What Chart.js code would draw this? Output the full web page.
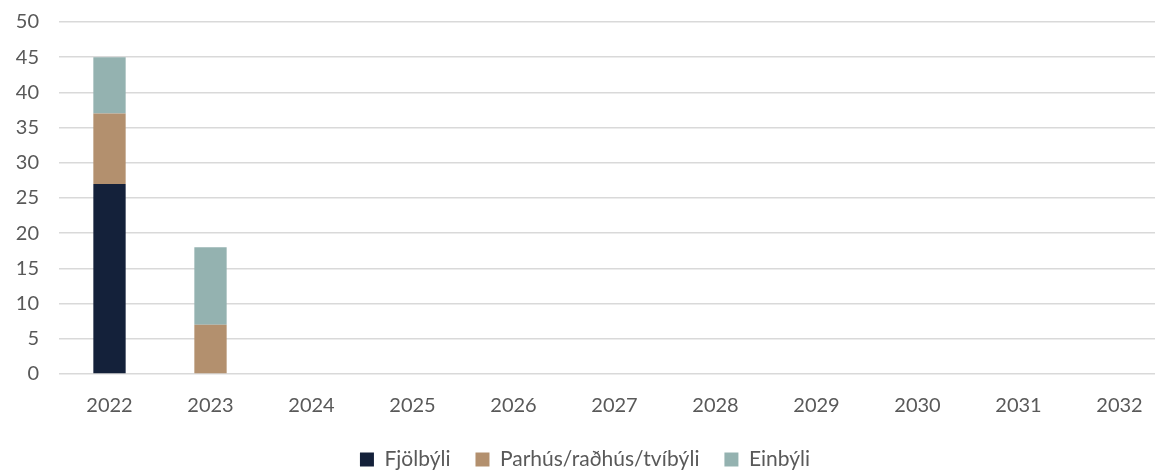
<!DOCTYPE html>
<html>
<head>
<meta charset="utf-8">
<script src="https://cdn.jsdelivr.net/npm/chart.js@4/dist/chart.umd.min.js"></script>
<style>
  html, body { margin: 0; padding: 0; background: #fff; overflow: hidden; }
  #wrap { width: 1170px; height: 470px; position: relative; }
</style>
</head>
<body>
<div id="wrap"><canvas id="chart"></canvas></div>
<script>
// Categories (years) and series values
const years = ['2022', '2023', '2024', '2025', '2026', '2027', '2028', '2029', '2030', '2031', '2032'];
const fjolbyli = [27, 0, 0, 0, 0, 0, 0, 0, 0, 0, 0];
const parhus = [10, 7, 0, 0, 0, 0, 0, 0, 0, 0, 0];
const einbyli = [8, 11, 0, 0, 0, 0, 0, 0, 0, 0, 0];
const yTicks = [0, 5, 10, 15, 20, 25, 30, 35, 40, 45, 50];

const fontFamily = 'Lato, "Open Sans", sans-serif';
const textColor = '#595959';

const ctx = document.getElementById('chart').getContext('2d');

new Chart(ctx, {
    type: 'bar',
    data: {
        labels: years,
        datasets: [
            { label: 'Fjölbýli', data: fjolbyli, backgroundColor: '#14213a' },
            { label: 'Parhús/raðhús/tvíbýli', data: parhus, backgroundColor: '#b3906e' },
            { label: 'Einbýli', data: einbyli, backgroundColor: '#94b2b0' }
        ]
    },
    options: {
        responsive: true,
        maintainAspectRatio: false,
        animation: false,
        layout: { padding: { top: 22, right: 0, bottom: -10, left: 0 } },
        datasets: {
            bar: { categoryPercentage: 1, barPercentage: 0.32, borderWidth: 0 }
        },
        scales: {
            x: {
                stacked: true,
                grid: { display: false },
                border: { display: false },
                ticks: { color: textColor, font: { family: fontFamily, size: 20 }, padding: 12 },
                afterFit: (scale) => { scale.height = 50; }
            },
            y: {
                stacked: true,
                min: 0,
                max: 50,
                afterBuildTicks: (scale) => { scale.ticks = yTicks.map(v => ({ value: v })); },
                grid: { color: '#d9d9d9', lineWidth: 1.5, drawTicks: false },
                border: { display: false },
                ticks: { color: textColor, font: { family: fontFamily, size: 20 }, padding: 20 },
                afterFit: (scale) => {
                    scale.width = 59;
                    scale.paddingTop = 0;
                    scale.paddingBottom = 0;
                }
            }
        },
        plugins: {
            legend: {
                position: 'bottom',
                labels: {
                    color: textColor,
                    font: { family: fontFamily, size: 21 },
                    boxWidth: 14,
                    boxHeight: 14,
                    padding: 25
                }
            },
            tooltip: { enabled: false }
        }
    }
});
</script>
</body>
</html>
